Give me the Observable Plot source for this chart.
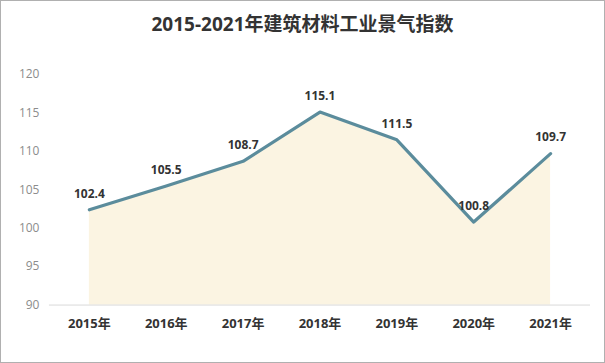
<!DOCTYPE html>
<html><head><meta charset="utf-8">
<script src="https://cdn.jsdelivr.net/npm/d3@7"></script>
<script src="https://cdn.jsdelivr.net/npm/@observablehq/plot@0.6"></script>
<style>
html,body{margin:0;padding:0;background:#fff;}
#frame{position:relative;width:603px;height:361px;border:1px solid #b0b0b0;overflow:hidden;}
#title{position:absolute;left:0;top:8px;width:603px;text-align:center;font:bold 19px "Open Sans","Noto Sans CJK SC",sans-serif;color:#333;}
#chart{position:absolute;left:-1px;top:44px;}
</style></head>
<body>
<div id="frame"><div id="title">2015-2021年建筑材料工业景气指数</div><div id="chart"></div></div>
<script>
const years = ["2015年","2016年","2017年","2018年","2019年","2020年","2021年"];
const values = [102.4,105.5,108.7,115.1,111.5,100.8,109.7];
const yTicks = [90,95,100,105,110,115,120];
const data = years.map((y,i)=>({year:y,value:values[i]}));
const font = '"Open Sans","Noto Sans CJK SC",sans-serif';
const plot = Plot.plot({
  width: 605, height: 318,
  marginLeft: 49, marginRight: 14, marginTop: 29, marginBottom: 58,
  style: {fontFamily: font, background: "transparent"},
  x: {type: "point", domain: years, padding: 0.5, label: null},
  y: {domain: [90,120], ticks: yTicks, label: null},
  marks: [
    Plot.areaY(data, {x: "year", y1: 90, y2: "value", fill: "#fbf4e2"}),
    Plot.ruleY([90], {stroke: "#d9d9d9", strokeWidth: 1}),
    Plot.lineY(data, {x: "year", y: "value", stroke: "#5b8c9c", strokeWidth: 3.2}),
    Plot.text(data, {x: "year", y: "value", text: d => d.value.toFixed(1), dy: -16, fontWeight: "bold", fontSize: 12, fill: "#333"}),
    Plot.axisY({ticks: yTicks, tickSize: 0, tickPadding: 10, fontSize: 12, fill: "#8c8c8c", label: null}),
    Plot.axisX({tickSize: 0, tickPadding: 14, fontSize: 13, fontWeight: "bold", fill: "#333", label: null})
  ]
});
document.getElementById("chart").appendChild(plot);
</script>
</body></html>
